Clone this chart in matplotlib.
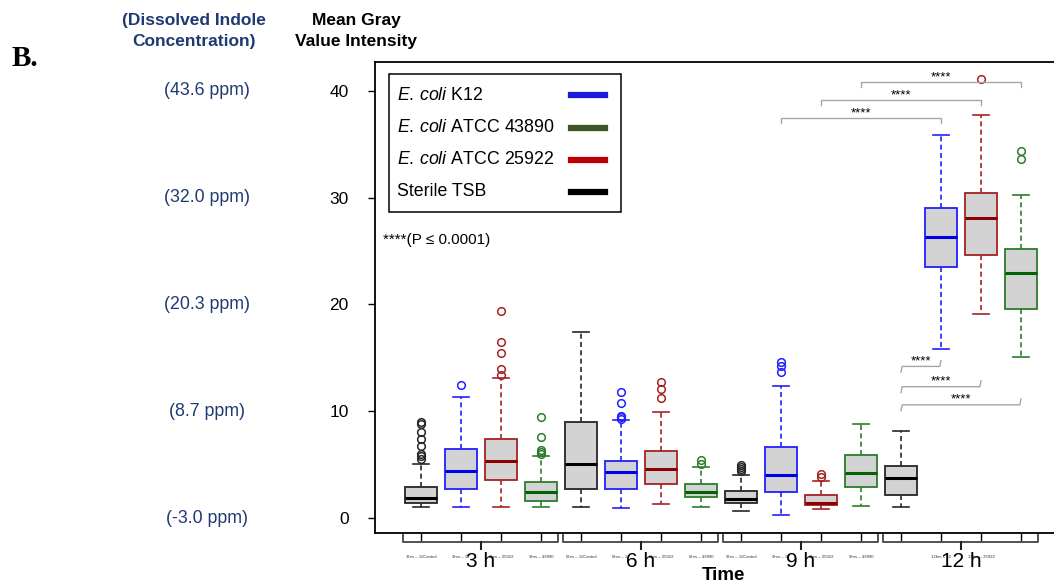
import matplotlib.pyplot as plt
from matplotlib import transforms
from matplotlib.patches import Rectangle
from matplotlib.lines import Line2D

plt.rcParams['font.family'] = ['Liberation Sans', 'DejaVu Sans']
plt.rcParams['mathtext.fontset'] = 'custom'
plt.rcParams['mathtext.it'] = 'Liberation Sans:italic'
plt.rcParams['mathtext.rm'] = 'Liberation Sans'

# data, box order per time: Control, K12, 25922, 43890
times = ['3', '6', '9', '12']
strains = ['11Control', '12', '25922', '43890']
medians = [1.84, 4.37, 5.34, 2.41,
           5.06, 4.34, 4.59, 2.47,
           1.75, 4.00, 1.40, 4.22,
           3.72, 26.35, 28.13, 22.95]
q1 = [1.37, 2.69, 3.53, 1.62,
      2.69, 2.72, 3.15, 1.93,
      1.37, 2.44, 1.19, 2.87,
      2.15, 23.54, 24.67, 19.61]
q3 = [2.90, 6.43, 7.37, 3.34,
      8.96, 5.34, 6.25, 3.15,
      2.50, 6.62, 2.12, 5.87,
      4.84, 29.07, 30.47, 25.17]
whislo = [1.00, 1.03, 1.06, 1.06,
          1.00, 0.97, 1.31, 1.03,
          0.66, 0.25, 0.87, 1.12,
          1.06, 15.83, 19.14, 15.08]
whishi = [5.09, 11.37, 13.10, 5.84,
          17.45, 9.15, 9.96, 4.78,
          4.06, 12.34, 3.47, 8.84,
          8.12, 35.85, 37.78, 30.26]
fliers = [[9.0, 8.85, 8.1, 7.4, 6.7, 6.0, 5.8, 5.5], [12.43],
          [19.4, 16.5, 15.5, 14.0, 13.4], [9.5, 7.6, 6.4, 6.2, 6.0],
          [], [11.8, 10.8, 9.6, 9.45, 9.3], [12.7, 12.1, 11.2], [5.45, 5.1],
          [5.0, 4.8, 4.6, 4.4], [14.6, 14.2, 13.7], [4.1, 3.8], [],
          [], [], [41.15], [34.4, 33.66]]
# significance comparisons (box index a, box index b, height)
sig_top = [(9, 13, 37.45), (10, 14, 39.15), (11, 15, 40.85)]
sig_low = [(12, 13, 14.2), (12, 14, 12.3), (12, 15, 10.6)]
ppm_labels = ['(-3.0 ppm)', '(8.7 ppm)', '(20.3 ppm)', '(32.0 ppm)', '(43.6 ppm)']
yticks = [0, 10, 20, 30, 40]
legend_labels = [r'$\mathit{E.\,coli}$ K12', r'$\mathit{E.\,coli}$ ATCC 43890',
                 r'$\mathit{E.\,coli}$ ATCC 25922', 'Sterile TSB']
legend_colors = ['#1a1ad8', '#3b5526', '#c00000', '#000000']

edge_colors = ['#262626', '#2020ff', '#a52222', '#2b7d2b']
med_colors = ['#000000', '#0000e6', '#8b0000', '#006400']

positions = list(range(1, 17))
tick_labels = []
for t in times:
    for s in strains:
        tick_labels.append(f'{t}hrs \u2013 {s}')
tick_labels[12] = ''
tick_labels[15] = ''

fig = plt.figure(figsize=(10.54, 5.84), dpi=100)
W, H = 1054, 584
ax = fig.add_axes([375 / W, 1 - 533 / H, (1064 - 375) / W, (533 - 62) / H])

for i, p in enumerate(positions):
    c = edge_colors[i % 4]
    st = dict(med=medians[i], q1=q1[i], q3=q3[i], whislo=whislo[i],
              whishi=whishi[i], fliers=fliers[i])
    ax.bxp([st], positions=[p], widths=0.8, capwidths=0.4, patch_artist=True,
           manage_ticks=False,
           boxprops=dict(facecolor='#d3d3d3', edgecolor=c, linewidth=1.3),
           medianprops=dict(color=med_colors[i % 4], linewidth=2.2),
           whiskerprops=dict(color=c, linewidth=1.2, linestyle=(0, (3, 2))),
           capprops=dict(color=c, linewidth=1.2),
           flierprops=dict(marker='o', markerfacecolor='none',
                           markeredgecolor=c, markersize=5.5, markeredgewidth=1.1))

ax.set_xlim(-0.15, 17.075)
ax.set_ylim(-1.405, 42.716)

ax.spines['right'].set_visible(False)
for s in ['left', 'top', 'bottom']:
    ax.spines[s].set_linewidth(1.3)

ax.set_yticks(yticks)
ax.set_yticklabels([str(v) for v in yticks], fontsize=12.5)
ax.tick_params(axis='y', length=5, width=1, pad=14)
ax.set_xticks(positions)
ax.set_xticklabels(tick_labels, fontsize=3.1, color='#333333')
ax.tick_params(axis='x', length=6, width=1, pad=10)

# group braces under the axis
trans = transforms.blended_transform_factory(ax.transData, ax.transAxes)
for g, t in enumerate(times):
    x0, x1, xc = 4 * g + 0.55, 4 * g + 4.42, 4 * g + 2.5
    ax.plot([x0, x0, x1, x1], [-0.002, -0.0185, -0.0185, -0.002], color='#444444',
            lw=1.3, transform=trans, clip_on=False)
    ax.plot([xc, xc], [-0.0185, -0.034], color='#222222', lw=1.5,
            transform=trans, clip_on=False)
    ax.text(xc, -0.06, f'{t} h', fontsize=15, ha='center', va='center',
            transform=trans)

# significance brackets
for a, b, h in sig_top:
    xa, xb = positions[a], positions[b]
    ax.plot([xa, xa, xb, xb], [h - 0.45, h, h, h - 0.45], color='#a6a6a6', lw=1)
    ax.text((xa + xb) / 2, h - 0.1, '****', fontsize=9.5, ha='center', va='bottom')
for a, b, h in sig_low:
    xa, xb = positions[a], positions[b]
    ax.plot([xa, xa + 0.03, xb - 0.03, xb], [h - 0.55, h, h, h + 0.55],
            color='#a6a6a6', lw=1)
    ax.text((xa + xb) / 2, h - 0.1, '****', fontsize=9.5, ha='center', va='bottom')

# left annotations
ttrans = transforms.blended_transform_factory(fig.transFigure, ax.transData)
for v, lab in zip(yticks, ppm_labels):
    ax.text(207 / W, v, lab, fontsize=12.8, color='#1f3a73', ha='center',
            va='center', transform=ttrans)

fig.text(194 / W, 1 - 31 / H, '(Dissolved Indole\nConcentration)', fontsize=12.5,
         fontweight='bold', color='#1f3a73', ha='center', va='center',
         linespacing=1.45)
fig.text(356 / W, 1 - 31 / H, 'Mean Gray\nValue Intensity', fontsize=12.5,
         fontweight='bold', color='black', ha='center', va='center',
         linespacing=1.45)
fig.text(12 / W, 1 - 58 / H, 'B.', fontsize=21, fontweight='bold',
         family=['Liberation Serif', 'DejaVu Serif'], va='center')
fig.text(723 / W, 1 - 575 / H, 'Time', fontsize=13.5, fontweight='bold',
         ha='center', va='center')

# legend box
fig.patches.append(Rectangle((389 / W, 1 - 212 / H), 232 / W, 138 / H,
                             transform=fig.transFigure, fill=False,
                             edgecolor='black', linewidth=1.1))
rows = [95, 128, 160, 192]
for r, lab, c in zip(rows, legend_labels, legend_colors):
    fig.text(397 / W, 1 - r / H, lab, fontsize=12.8, va='center')
    fig.lines.append(Line2D([571 / W, 605 / W], [1 - r / H, 1 - r / H],
                            transform=fig.transFigure, color=c, lw=4.5))

fig.text(383 / W, 1 - 240 / H, '****(P \u2264 0.0001)', fontsize=11, va='center')

fig.savefig('out.png', dpi=100)
